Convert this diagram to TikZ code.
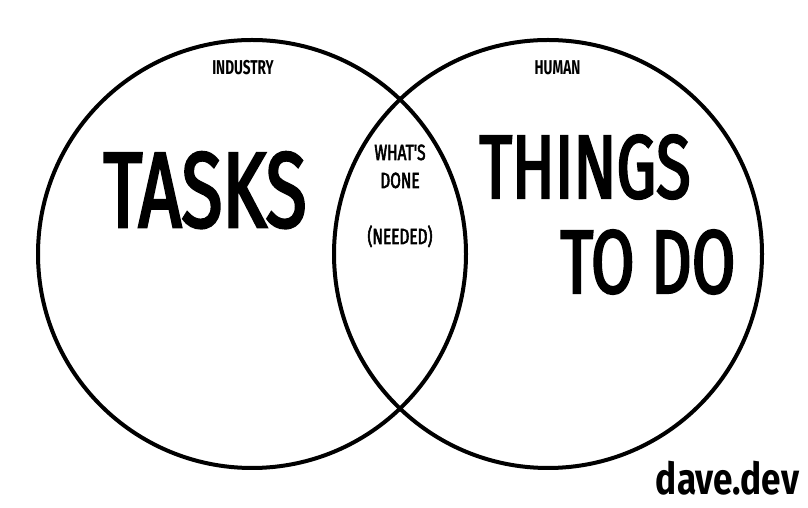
\documentclass[tikz,border=0pt]{standalone}
\usepackage{fontspec}
\newfontfamily\condfont[FakeStretch=0.68]{Fira Sans}
\newfontfamily\bigfont[FakeStretch=0.7, FakeBold=2.5]{Fira Sans}
\newfontfamily\sitefont[FakeStretch=0.8]{Fira Sans}
\usetikzlibrary{shapes,calc}
\tikzset{
  set_c/.style = {circle, draw=black, line width=4pt, minimum size=428pt, inner sep=0pt},
  lbl/.style = {anchor=base, inner sep=0pt, align=center},
  lbl_s/.style = {lbl, font=\condfont\bfseries\fontsize{20}{20}\selectfont},
  lbl_m/.style = {lbl, font=\bigfont\fontsize{22}{22}\selectfont},
  lbl_l/.style = {lbl, font=\bigfont\fontsize{90}{90}\selectfont},
  lbl_xl/.style = {lbl, font=\bigfont\fontsize{107}{107}\selectfont}
}
\begin{document}
\begin{tikzpicture}[x=1pt,y=1pt]
\useasboundingbox (0,0) rectangle (808,508);
\node [set_c] (industry_set) at (252,254) {};
\node [set_c] (human_set) at (548,254) {};
\node [lbl_s] (industry) at (243,433) {INDUSTRY};
\node [lbl_s] (human) at (557.5,433) {HUMAN};
\node [lbl_xl] (tasks) at (205,281) {TASKS};
\node [lbl_l] (things) at (585,310) {THINGS};
\node [lbl_l] (todo) at (648,215) {TO DO};
\node [lbl_m] (whats) at (400,348) {WHAT'S};
\node [lbl_m] (done) at (400,320) {DONE};
\node [lbl_m] (needed) at (400,264) {(NEEDED)};
\node [anchor=base, inner sep=0pt, font=\sitefont\bfseries\fontsize{44}{44}\selectfont] (site) at (727.5,13) {dave.dev};
\end{tikzpicture}
\end{document}
